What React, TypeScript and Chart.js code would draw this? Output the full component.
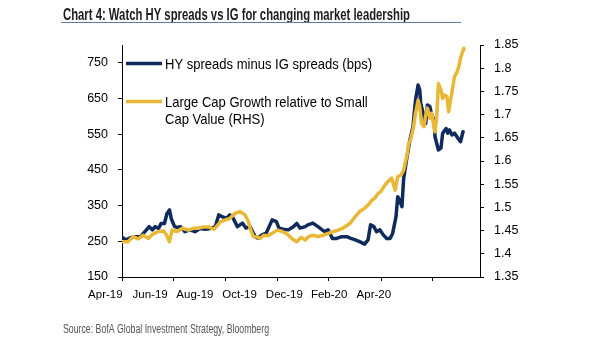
import React, { useEffect, useRef } from "react";
import { Chart, registerables } from "chart.js";

Chart.register(...registerables);

const titleText = "Chart 4: Watch HY spreads vs IG for changing market leadership";
const sourceText = "Source: BofA Global Investment Strategy, Bloomberg";
const hyLabel = "HY spreads minus IG spreads (bps)";
const lcgLabelLines = ["Large Cap Growth relative to Small", "Cap Value (RHS)"];

// x values are days since 1 Apr 2019
const hyDays = [0, 4, 10, 16, 22, 27, 32, 36, 39, 43, 46, 50, 53, 56, 58, 62, 65, 69, 74, 80, 86, 92, 98, 104, 110, 114, 118, 123, 127, 131, 136, 142, 146, 151, 157, 160, 165, 170, 177, 182, 185, 190, 196, 202, 206, 210, 216, 219, 225, 231, 236, 239, 243, 248, 253, 259, 265, 269, 275, 280, 286, 290, 293, 297, 300, 304, 308, 312, 316, 319, 323, 325, 327, 330, 332, 336, 339, 343, 346, 349, 351, 352, 355, 358, 360, 363, 365, 368, 369, 371, 373, 376, 378, 382, 384, 386, 389, 392, 396, 399, 402];
const hyValues = [262, 254, 260, 263, 263, 277, 291, 282, 291, 286, 300, 300, 328, 338, 314, 291, 289, 291, 277, 282, 277, 286, 284, 286, 291, 324, 319, 314, 324, 315, 291, 301, 287, 291, 263, 259, 268, 273, 310, 305, 287, 284, 282, 291, 300, 287, 291, 296, 301, 291, 282, 277, 282, 258, 258, 263, 263, 259, 254, 249, 242, 254, 296, 291, 277, 282, 268, 258, 258, 272, 319, 375, 366, 347, 426, 487, 529, 571, 646, 688, 674, 637, 609, 580, 632, 627, 604, 590, 543, 524, 506, 511, 553, 566, 553, 562, 548, 553, 539, 529, 557];

const lcgDays = [0, 7, 13, 19, 25, 31, 36, 43, 49, 52, 56, 59, 65, 71, 78, 84, 90, 96, 102, 108, 111, 116, 122, 127, 133, 139, 145, 149, 151, 155, 159, 163, 167, 172, 177, 183, 189, 195, 200, 206, 211, 216, 220, 225, 231, 237, 243, 249, 255, 260, 266, 269, 275, 280, 286, 290, 295, 298, 302, 305, 310, 313, 318, 322, 325, 329, 332, 336, 338, 340, 343, 346, 349, 351, 353, 356, 358, 360, 363, 365, 368, 369, 371, 373, 376, 378, 380, 383, 385, 388, 390, 392, 395, 397, 399, 402, 403];
const lcgValues = [1.426, 1.426, 1.437, 1.432, 1.44, 1.433, 1.442, 1.448, 1.449, 1.442, 1.426, 1.451, 1.448, 1.455, 1.451, 1.455, 1.455, 1.458, 1.458, 1.453, 1.458, 1.469, 1.473, 1.476, 1.487, 1.491, 1.484, 1.469, 1.455, 1.437, 1.437, 1.433, 1.44, 1.439, 1.444, 1.451, 1.448, 1.442, 1.433, 1.426, 1.435, 1.43, 1.437, 1.44, 1.437, 1.44, 1.444, 1.448, 1.451, 1.455, 1.462, 1.466, 1.48, 1.491, 1.498, 1.505, 1.516, 1.52, 1.53, 1.534, 1.548, 1.555, 1.563, 1.537, 1.566, 1.57, 1.58, 1.613, 1.638, 1.645, 1.667, 1.703, 1.731, 1.717, 1.681, 1.674, 1.699, 1.714, 1.692, 1.703, 1.67, 1.663, 1.696, 1.767, 1.753, 1.735, 1.742, 1.739, 1.706, 1.739, 1.76, 1.782, 1.792, 1.803, 1.821, 1.839, 1.843];

const xTickDays = [0, 61, 122, 183, 244, 306, 366];
const xTickLabels = ["Apr-19", "Jun-19", "Aug-19", "Oct-19", "Dec-19", "Feb-20", "Apr-20"];
const leftTicks = [150, 250, 350, 450, 550, 650, 750];
const rightTicks = [1.35, 1.4, 1.45, 1.5, 1.55, 1.6, 1.65, 1.7, 1.75, 1.8, 1.85];

const NAVY = "#0f2a5c";
const GOLD = "#e8b836";
const SANS = '"Liberation Sans", Arial, sans-serif';
const NARROW = '"Liberation Sans Narrow", "Liberation Sans", Arial, sans-serif';

function drawFitted(ctx: CanvasRenderingContext2D, text: string, x: number, y: number, scaleX: number, color: string) {
  ctx.save();
  ctx.translate(x, y);
  ctx.scale(scaleX, 1);
  ctx.fillStyle = color;
  ctx.textAlign = "left";
  ctx.textBaseline = "alphabetic";
  ctx.fillText(text, 0, 0);
  ctx.restore();
}

const overlayPlugin = {
  id: "overlay",
  afterDraw(chart: any) {
    const ctx: CanvasRenderingContext2D = chart.ctx;
    const area = chart.chartArea;
    ctx.save();
    // title
    ctx.font = `bold 17px ${NARROW}`;
    const tw = ctx.measureText(titleText).width;
    drawFitted(ctx, titleText, 63, 19.5, 347 / tw, "#1c1c1c");
    ctx.strokeStyle = "#5b7da8";
    ctx.lineWidth = 1;
    ctx.beginPath();
    ctx.moveTo(61, 22.5);
    ctx.lineTo(461, 22.5);
    ctx.stroke();

    // legend
    ctx.font = `15px ${SANS}`;
    const lw = ctx.measureText(hyLabel).width;
    const k = 207 / lw;
    const lx0 = area.left + 4;
    const lx1 = area.left + 40;
    const tx = area.left + 43;
    ctx.lineCap = "butt";
    ctx.lineWidth = 3.5;
    ctx.strokeStyle = NAVY;
    ctx.beginPath();
    ctx.moveTo(lx0, area.top + 18.5);
    ctx.lineTo(lx1, area.top + 18.5);
    ctx.stroke();
    ctx.strokeStyle = GOLD;
    ctx.beginPath();
    ctx.moveTo(lx0, area.top + 56.5);
    ctx.lineTo(lx1, area.top + 56.5);
    ctx.stroke();
    drawFitted(ctx, hyLabel, tx, area.top + 24.3, k, "#000");
    drawFitted(ctx, lcgLabelLines[0], tx, area.top + 62.3, k, "#000");
    drawFitted(ctx, lcgLabelLines[1], tx, area.top + 79, k, "#000");

    // source
    ctx.font = `13px ${NARROW}`;
    const sw = ctx.measureText(sourceText).width;
    drawFitted(ctx, sourceText, 63, 333, 206 / sw, "#555555");
    ctx.restore();
  },
};

export default function App() {
  const canvasRef = useRef<HTMLCanvasElement | null>(null);

  useEffect(() => {
    const canvas = canvasRef.current;
    if (!canvas) return;
    const chart = new Chart(canvas, {
      type: "line",
      data: {
        datasets: [
          {
            label: hyLabel,
            data: hyDays.map((d, i) => ({ x: d, y: hyValues[i] })),
            borderColor: NAVY,
            backgroundColor: NAVY,
            borderWidth: 3.5,
            pointRadius: 0,
            tension: 0,
            borderJoinStyle: "round",
            borderCapStyle: "round",
            xAxisID: "x",
            yAxisID: "y",
            order: 1,
          },
          {
            label: lcgLabelLines.join(" "),
            data: lcgDays.map((d, i) => ({ x: d, y: lcgValues[i] })),
            borderColor: GOLD,
            backgroundColor: GOLD,
            borderWidth: 3.5,
            pointRadius: 0,
            tension: 0,
            borderJoinStyle: "round",
            borderCapStyle: "round",
            xAxisID: "x",
            yAxisID: "y1",
            order: 0,
          },
        ],
      },
      options: {
        responsive: false,
        animation: false,
        devicePixelRatio: 1,
        layout: { padding: { top: 45, left: 0, right: 0, bottom: 0 } },
        plugins: { legend: { display: false }, tooltip: { enabled: false }, title: { display: false } },
        scales: {
          x: {
            type: "linear",
            position: "bottom",
            weight: 0,
            min: 0,
            max: 422,
            afterBuildTicks: (s: any) => {
              s.ticks = xTickDays.map((v) => ({ value: v }));
            },
            afterFit: (s: any) => {
              s.height = 4;
            },
            ticks: { display: false },
            grid: { drawOnChartArea: false, drawTicks: true, tickLength: 4, color: "#000", lineWidth: 1 },
            border: { display: true, color: "#000", width: 1 },
          },
          xl: {
            type: "linear",
            position: "bottom",
            weight: 1,
            min: -0.5,
            max: 7.5,
            afterBuildTicks: (s: any) => {
              s.ticks = xTickLabels.map((_, i) => ({ value: i }));
            },
            afterFit: (s: any) => {
              s.height = 60;
            },
            ticks: {
              autoSkip: false,
              maxRotation: 0,
              labelOffset: -39,
              padding: 7,
              color: "#000",
              font: { family: SANS, size: 11.5 },
              callback: (_v: any, i: number) => xTickLabels[i],
            },
            grid: { display: false, drawTicks: false },
            border: { display: false },
          },
          y: {
            type: "linear",
            position: "left",
            min: 150,
            max: 800,
            afterBuildTicks: (s: any) => {
              s.ticks = leftTicks.map((v) => ({ value: v }));
            },
            afterFit: (s: any) => {
              s.width = 122;
            },
            ticks: {
              padding: 10,
              color: "#000",
              font: { family: SANS, size: 12.5 },
              callback: (v: any) => String(v),
            },
            grid: { drawOnChartArea: false, drawTicks: true, tickLength: 4, color: "#000" },
            border: { display: true, color: "#000", width: 1 },
          },
          y1: {
            type: "linear",
            position: "right",
            min: 1.35,
            max: 1.85,
            afterBuildTicks: (s: any) => {
              s.ticks = rightTicks.map((v) => ({ value: v }));
            },
            afterFit: (s: any) => {
              s.width = 125;
            },
            ticks: {
              padding: 10,
              color: "#000",
              font: { family: SANS, size: 12.5 },
              callback: (v: any) => String(Number(Number(v).toFixed(2))),
            },
            grid: { drawOnChartArea: false, drawTicks: true, tickLength: 4, color: "#000" },
            border: { display: true, color: "#000", width: 1 },
          },
        },
      },
      plugins: [overlayPlugin],
    } as any);
    return () => chart.destroy();
  }, []);

  return (
    <div style={{ position: "fixed", left: 0, top: 0, width: 605, height: 341, background: "#fff" }}>
      <canvas ref={canvasRef} width={605} height={341} style={{ width: 605, height: 341, display: "block" }} />
    </div>
  );
}
